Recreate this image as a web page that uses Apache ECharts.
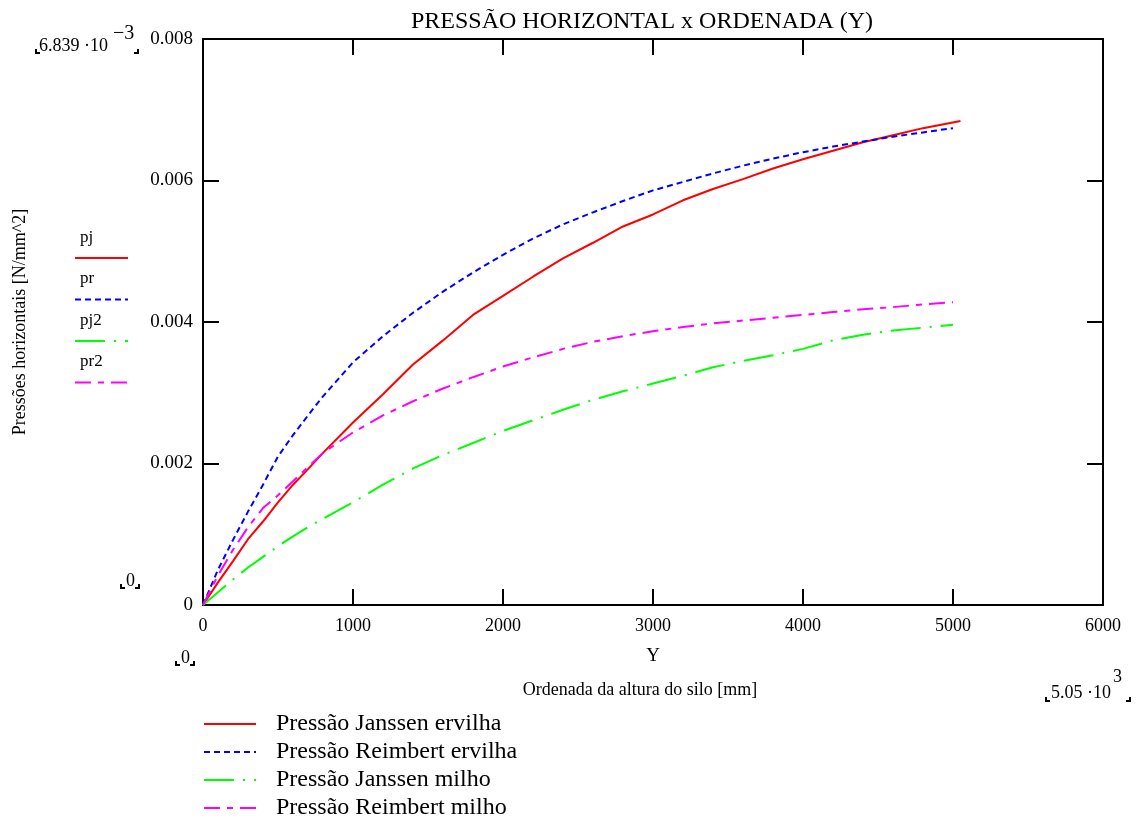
<!DOCTYPE html>
<html><head><meta charset="utf-8">
<script src="https://cdn.jsdelivr.net/npm/echarts@6/dist/echarts.min.js"></script>
<style>html,body{margin:0;padding:0;background:#fff}#c{width:1136px;height:820px}</style>
</head><body><div id="c"></div>
<script>
// ---- data ----
const xPj = [0,100,200,300,400,500,600,700,800,1000,1200,1400,1600,1800,2000,2200,2400,2600,2800,3000,3200,3400,3600,3800,4000,4200,4400,4600,4800,5050];
const pj  = [0,0.00032,0.00062,0.00093,0.00118,0.00145,0.00170,0.00192,0.00215,0.00258,0.00298,0.00340,0.00374,0.00410,0.00437,0.00464,0.00490,0.00512,0.00535,0.00552,0.00572,0.00588,0.00602,0.00617,0.00630,0.00642,0.00654,0.00664,0.00674,0.00684];
const xR  = [0,100,200,300,400,500,600,700,800,1000,1200,1400,1600,1800,2000,2200,2400,2600,2800,3000,3200,3400,3600,3800,4000,4200,4400,4600,4800,5000];
const pr  = [0,0.00050,0.00092,0.00132,0.00170,0.00210,0.00240,0.00268,0.00295,0.00343,0.00380,0.00413,0.00443,0.00470,0.00495,0.00518,0.00538,0.00555,0.00571,0.00586,0.00598,0.00610,0.00621,0.00631,0.00640,0.00648,0.00655,0.00662,0.00668,0.00674];
const pj2 = [0,0.00018,0.00036,0.00053,0.00068,0.00083,0.00097,0.00110,0.00122,0.00145,0.00170,0.00193,0.00212,0.00229,0.00246,0.00261,0.00276,0.00290,0.00302,0.00313,0.00324,0.00336,0.00345,0.00353,0.00362,0.00374,0.00382,0.00388,0.00392,0.00396];
const pr2 = [0,0.00042,0.00078,0.00110,0.00137,0.00155,0.00175,0.00195,0.00215,0.00244,0.00268,0.00288,0.00306,0.00322,0.00337,0.00350,0.00362,0.00372,0.00380,0.00387,0.00393,0.00398,0.00402,0.00406,0.00410,0.00414,0.00418,0.00421,0.00425,0.00428];
const seriesNames = ['Pressão Janssen ervilha','Pressão Reimbert ervilha','Pressão Janssen milho','Pressão Reimbert milho'];
const shortNames = ['pj','pr','pj2','pr2'];
const xTicks = [0,1000,2000,3000,4000,5000,6000];
const yTicks = [0,0.002,0.004,0.006,0.008];

// ---- styles ----
const F = 'Liberation Serif, Times New Roman, serif';
const colors = ['#ff0000','#0000ff','#00ff00','#ff00ff'];
const dashes = ['solid',[6,4],[30,9,2,9],[16,7,6,7]];
const zip = (xs, ys) => xs.map((x,i)=>[x, ys[i]]);
const datasets = [zip(xPj,pj), zip(xR,pr), zip(xR,pj2), zip(xR,pr2)];

const chart = echarts.init(document.getElementById('c'), null, {renderer:'canvas'});

function corner(x, y, w) { // small ⌞ ... ⌟ marks
  return [
    {type:'polyline', shape:{points:[[x,y-4],[x,y],[x+4,y]]}, style:{stroke:'#000', lineWidth:2, fill:null}},
    {type:'polyline', shape:{points:[[x+w-4,y],[x+w,y],[x+w,y-4]]}, style:{stroke:'#000', lineWidth:2, fill:null}}
  ];
}
const txt = (x,y,t,size) => ({type:'text', x:x, y:y, style:{text:t, font:size+'px '+F, fill:'#000'}});

const graphics = [];
graphics.push({type:'text', x:642, y:22, style:{text:'PRESSÃO HORIZONTAL x ORDENADA (Y)', font:'24px '+F, fill:'#000', textAlign:'center', textVerticalAlign:'middle'}});
graphics.push({type:'text', x:640, y:690, style:{text:'Ordenada da altura do silo [mm]', font:'18px '+F, fill:'#000', textAlign:'center', textVerticalAlign:'middle'}});
// corner labels
graphics.push(txt(39,37,'6.839 ·10',18));
graphics.push(txt(113,24,'−3',20));
graphics.push(...corner(36,53,102));
graphics.push(txt(126,572,'0',18));
graphics.push(...corner(121,588,18));
graphics.push(txt(181,649,'0',18));
graphics.push(...corner(176,665,18));
graphics.push(txt(1051,684,'5.05 ·10',18));
graphics.push(txt(1113,668,'3',18));
graphics.push(...corner(1046,701,84));
// left legend (short names)
shortNames.forEach((n,i)=>{
  const y0 = 240 + i*41.5;
  graphics.push(txt(80, y0-11, n, 17));
  graphics.push({type:'line', shape:{x1:75,y1:y0+18,x2:128,y2:y0+18}, style:{stroke:colors[i], lineWidth:2, lineDash: dashes[i]==='solid'?null:dashes[i]}});
});

chart.setOption({
  animation:false,
  backgroundColor:'#fff',
  grid:{left:203, right:33, top:39, bottom:215, show:false},
  legend:{
    orient:'vertical', left:203, top:712, itemWidth:52, itemHeight:14, itemGap:4, padding:0,
    height:108,
    itemStyle:{opacity:0},
    data: seriesNames,
    textStyle:{fontFamily:F, fontSize:24, color:'#000', padding:[0,0,0,15], lineHeight:24}
  },
  xAxis:[
    {type:'value', position:'bottom', min:0, max:6000, interval:1000,
     name:'Y', nameLocation:'middle', nameGap:42, nameTextStyle:{fontFamily:F, fontSize:19, color:'#000'},
     axisLine:{onZero:false, lineStyle:{color:'#000', width:2}},
     axisTick:{inside:true, length:16, lineStyle:{color:'#000', width:2}},
     axisLabel:{fontFamily:F, fontSize:18, color:'#000', margin:12, formatter:v=>String(Math.round(v))},
     splitLine:{show:false}},
    {type:'value', position:'top', min:0, max:6000, interval:1000,
     axisLine:{onZero:false, lineStyle:{color:'#000', width:2}},
     axisTick:{inside:true, length:16, lineStyle:{color:'#000', width:2}},
     axisLabel:{show:false}, splitLine:{show:false}}
  ],
  yAxis:[
    {type:'value', position:'left', min:0, max:0.008, interval:0.002,
     name:'Pressões horizontais [N/mm^2]', nameLocation:'middle', nameGap:174, nameRotate:90,
     nameTextStyle:{fontFamily:F, fontSize:18, color:'#000'},
     axisLine:{onZero:false, lineStyle:{color:'#000', width:2}},
     axisTick:{inside:true, length:16, lineStyle:{color:'#000', width:2}},
     axisLabel:{fontFamily:F, fontSize:19, color:'#000', margin:10, formatter:v=> v===0?'0':v.toFixed(3)},
     splitLine:{show:false}},
    {type:'value', position:'right', min:0, max:0.008, interval:0.002,
     axisLine:{onZero:false, lineStyle:{color:'#000', width:2}},
     axisTick:{inside:true, length:16, lineStyle:{color:'#000', width:2}},
     axisLabel:{show:false}, splitLine:{show:false}}
  ],
  series: seriesNames.map((n,i)=>({
    name:n, type:'line', data:datasets[i], symbol:'none', smooth:false, z:3,
    xAxisIndex:0, yAxisIndex:0,
    lineStyle:{color:colors[i], width:2, type:dashes[i]},
    itemStyle:{color:colors[i]}
  })),
  graphic: graphics
});
</script></body></html>
